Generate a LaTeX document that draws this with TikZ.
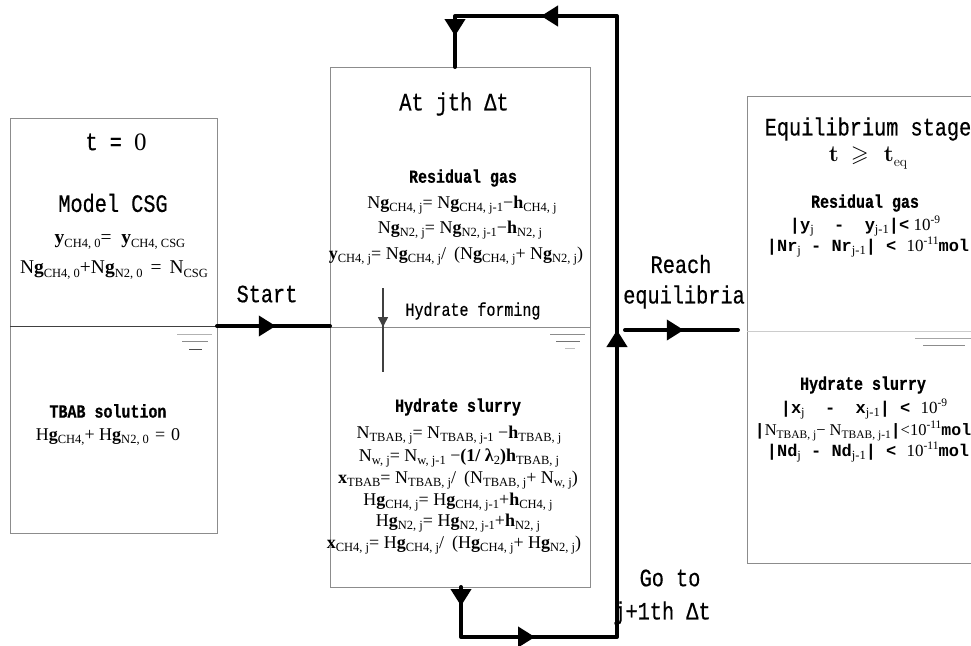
\documentclass[tikz,border=0pt]{standalone}
\usepackage{amssymb}
\usepackage{fontspec}
\setmainfont{Liberation Serif}
\setmonofont{Liberation Mono}
\newfontfamily\lblfont{Liberation Mono}[FakeStretch=0.81,FakeBold=0.5]
\newfontfamily\lmfont{Latin Modern Roman}
\usetikzlibrary{arrows.meta,decorations.markings}
\newcommand\lo[1]{\raisebox{-0.18em}{\fontsize{12.5}{12.5}\selectfont\rmfamily\mdseries #1}}
\newcommand\los[1]{\raisebox{-0.18em}{\fontsize{11.5}{11.5}\selectfont\rmfamily\mdseries #1}}
\newcommand\hi[1]{\raisebox{0.45em}{\fontsize{11.5}{11.5}\selectfont\rmfamily\mdseries #1}}
\newcommand\B[1]{\textbf{#1}}
\newcommand\T[1]{{\ttfamily\bfseries #1}}
\tikzset{
  box/.style={draw=black!45, line width=0.9pt},
  lab/.style={font=\fontsize{25}{27}\selectfont\lblfont, inner sep=0pt},
  head/.style={font=\fontsize{18.5}{20}\selectfont\lblfont\bfseries, inner sep=0pt},
  eq/.style={font=\fontsize{18}{20}\selectfont, inner sep=0pt},
  eqL/.style={font=\fontsize{19.5}{21}\selectfont, inner sep=0pt},
  eqR/.style={font=\fontsize{17}{19}\selectfont, inner sep=0pt},
  flow/.style={line width=4pt, line cap=round, line join=round},
  surf/.style={line width=0.9pt},
}
\begin{document}
\begin{tikzpicture}[x=1pt,y=-1pt,>={Triangle[length=17pt,width=20pt]}]
\clip (0,0) rectangle (971,645);
\fill[white] (0,0) rectangle (971,645);
% boxes
\draw[box] (10,118) rectangle (217,533);
\draw[box] (330,67) rectangle (590,587);
\draw[box] (747,96) rectangle (980,563);
% water lines
\draw[line width=0.9pt, black!75] (10,326) -- (217,326);
\draw[surf, black!30] (177,334) -- (212,334);
\draw[surf, black!45] (182,341) -- (208,341);
\draw[surf, black!70] (189,349) -- (202,349);
\draw[line width=0.9pt, black!45] (330,327) -- (590,327);
\draw[surf, black!45] (550,334) -- (585,334);
\draw[surf, black!55] (556,341) -- (580,341);
\draw[surf, black!25] (565,348) -- (575,348);
\draw[line width=0.9pt, black!20] (747,331) -- (971,331);
\draw[surf, black!35] (915,338) -- (971,338);
\draw[surf, black!45] (923,345) -- (965,345);
% left texts
\node[lab] (t0) at (116,142) {t = {\rmfamily 0}};
\node[lab] (mcsg) at (113,203) {Model CSG};
\node[eqL] (l1) at (120,242) {\B{y}\lo{CH4, 0}= \ \B{y}\lo{CH4, CSG}};
\node[eqL] (l2) at (114,270) {N\B{g}\lo{CH4, 0}+N\B{g}\lo{N2, 0}\hspace{8pt}=\hspace{8pt}N\lo{CSG}};
\node[head] (tbab) at (108,411) {TBAB solution};
\node[eq] (l3) at (108,437) {H\B{g}\lo{CH4,}+ H\B{g}\lo{N2, 0}\hspace{6pt}=\hspace{6pt}0};
% middle texts
\node[lab] (atj) at (454,104) {At jth Δt};
\node[head] (rg) at (463,178) {Residual gas};
\node[eq] (m1) at (462,205) {N\B{g}\lo{CH4, j}= N\B{g}\lo{CH4, j-1}−\B{h}\lo{CH4, j}};
\node[eq] (m2) at (460,230) {N\B{g}\lo{N2, j}= N\B{g}\lo{N2, j-1}−\B{h}\lo{N2, j}};
\node[eq] (m3) at (456,256) {\B{y}\lo{CH4, j}= N\B{g}\lo{CH4, j}/\hspace{8pt}(N\B{g}\lo{CH4, j}+ N\B{g}\lo{N2, j})};
\node[font=\fontsize{18.5}{20}\selectfont\lblfont, inner sep=0pt] (hf) at (473,311) {Hydrate forming};
\node[head] (hs) at (458,407) {Hydrate slurry};
\node[eq] (s1) at (459,435) {N\lo{TBAB, j}= N\lo{TBAB, j-1} −\B{h}\lo{TBAB, j}};
\node[eq] (s2) at (459,458) {N\lo{w, j}= N\lo{w, j-1} −\B{(1/ λ}\lo{2}\B{)h}\lo{TBAB, j}};
\node[eq] (s3) at (458,480) {\B{x}\lo{TBAB}= N\lo{TBAB, j}/\hspace{8pt}(N\lo{TBAB, j}+ N\lo{w, j})};
\node[eq] (s4) at (458,502) {H\B{g}\lo{CH4, j}= H\B{g}\lo{CH4, j-1}+\B{h}\lo{CH4, j}};
\node[eq] (s5) at (458,523) {H\B{g}\lo{N2, j}= H\B{g}\lo{N2, j-1}+\B{h}\lo{N2, j}};
\node[eq] (s6) at (454,545) {\B{x}\lo{CH4, j}= H\B{g}\lo{CH4, j}/\hspace{8pt}(H\B{g}\lo{CH4, j}+ H\B{g}\lo{N2, j})};
% right texts
\node[lab] (eqs) at (868,129) {Equilibrium stage};
\node[inner sep=0pt, font=\fontsize{23}{25}\selectfont\lmfont\bfseries] (tge) at (868,158) {t\hspace{12pt}$\geqslant$\hspace{15pt}t\raisebox{-0.18em}{\fontsize{14}{14}\selectfont\mdseries eq}};
\node[head] (rg2) at (865,203) {Residual gas};
\node[eqR] (r1) at (865,226) {\T{|y}\lo{j}\T{\ \ -\ \ y}\lo{j-1}\T{|<} 10\hi{-9}};
\node[eqR] (r2) at (868,247) {\T{|Nr}\lo{j}\T{ - Nr}\lo{j-1}\T{| < }10\hi{-11}\T{mol}};
\node[head] (hs2) at (863,385) {Hydrate slurry};
\node[eqR] (r3) at (864,409) {\T{|x}\lo{j}\T{\ \ -\ \ x}\lo{j-1}\T{| < }10\hi{-9}};
\node[inner sep=0pt, font=\fontsize{16.5}{18}\selectfont] (r4) at (863,431) {\T{|}N\los{TBAB, j}− N\los{TBAB, j-1}\T{|}<10\hi{-11}\T{mol}};
\node[eqR] (r5) at (868,452) {\T{|Nd}\lo{j}\T{ - Nd}\lo{j-1}\T{| < }10\hi{-11}\T{mol}};
% connector labels
\node[lab] (start) at (267,294) {Start};
\node[lab] (reach) at (681,264) {Reach};
\node[lab] (equi) at (684,297) {equilibria};
\node[lab] (goto) at (670,578) {Go to};
\node[lab] (jp1) at (662,613) {j+1th Δt};
% coordinates
\coordinate (lbR) at (217,326);
\coordinate (mbL) at (330,326);
\coordinate (mbB) at (461,587);
\coordinate (c1) at (461,637);
\coordinate (c2) at (617,637);
\coordinate (c3) at (617,16);
\coordinate (c4) at (455,16);
\coordinate (mbT) at (455,67);
\coordinate (ra) at (625,330);
\coordinate (rb) at (738,330);
\coordinate (hfa) at (383,288);
\coordinate (hfb) at (383,327);
\coordinate (hfc) at (383,372);
% thick arrows
\draw[flow, postaction={decorate}, decoration={markings,
  mark=at position 0.52 with {\arrow{>}}}] (lbR) -- (mbL);
\draw[flow, postaction={decorate}, decoration={markings,
  mark=at position 0.52 with {\arrow{>}}}] (ra) -- (rb);
\draw[flow, postaction={decorate}, decoration={markings,
  mark=at position 19pt with {\arrow{>}},
  mark=at position 124pt with {\arrow{>}},
  mark=at position 513pt with {\arrow{>}},
  mark=at position 903pt with {\arrow{>}},
  mark=at position 1009pt with {\arrow{>}}}]
  (mbB) -- (c1) -- (c2) -- (c3) -- (c4) -- (mbT);
% hydrate forming arrow
\draw[line width=1.6pt, black!75] (hfa) -- (hfc);
\draw[line width=1.6pt, black!75, -{Triangle[length=10pt,width=10pt]}] (hfa) -- (hfb);
\end{tikzpicture}
\end{document}
